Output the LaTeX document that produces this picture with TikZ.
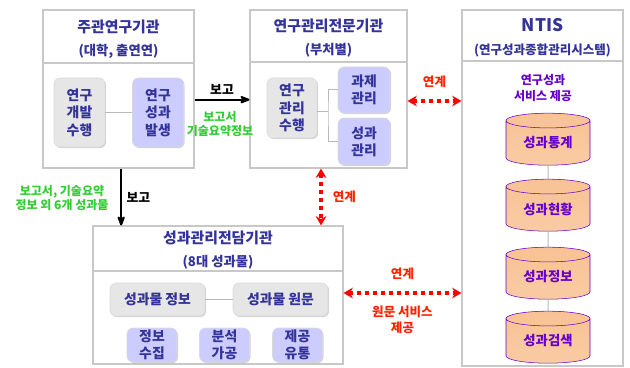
\documentclass[tikz,border=0pt]{standalone}
\usepackage{fontspec}
\setmainfont{Noto Sans CJK KR}
\usetikzlibrary{arrows.meta, shapes.geometric, shadows}

\definecolor{navy}{HTML}{333399}
\definecolor{framegray}{HTML}{C8C8C8}
\definecolor{boxgray}{HTML}{E6E6E6}
\definecolor{boxpurple}{HTML}{CCCCFF}
\definecolor{labelgreen}{HTML}{33CC33}
\definecolor{linkred}{HTML}{FF2200}
\definecolor{servpurple}{HTML}{6600CC}
\definecolor{cylorange}{HTML}{F8C294}

\begin{document}
\begin{tikzpicture}[x=0.75pt, y=-0.75pt, >={Stealth[round]},
    frame/.style={draw=framegray, line width=0.8pt, inner sep=0pt},
    title/.style={navy, align=center, font=\bfseries\fontsize{11.2}{17}\selectfont},
    inbox/.style={rounded corners=4.5pt, inner sep=0pt, align=center, navy,
        draw=gray!30, font=\bfseries\fontsize{10.4}{13}\selectfont,
        drop shadow={shadow xshift=0.8pt, shadow yshift=-0.8pt, opacity=0.35, fill=gray}},
    graybox/.style={inbox, fill=boxgray},
    purplebox/.style={inbox, fill=boxpurple},
    db/.style={cylinder, shape border rotate=90, aspect=0.3, draw=cylorange!90!orange,
        line width=0.4pt, top color=cylorange, middle color=cylorange!30, bottom color=cylorange!85,
        minimum width=63pt, minimum height=39pt, inner sep=0pt, servpurple,
        font=\bfseries\fontsize{10}{11}\selectfont},
    thin/.style={draw=gray!55, line width=0.75pt},
    report/.style={->, line width=1.5pt, black},
    link/.style={{Stealth[length=7pt, width=8pt]}-{Stealth[length=7pt, width=8pt]}, red,
        line width=3pt, dash pattern=on 3pt off 3pt},
    green/.style={labelgreen, align=center, font=\bfseries\fontsize{9}{10.5}\selectfont},
    redlab/.style={linkred, align=center, font=\bfseries\fontsize{9.4}{11.8}\selectfont}]
    \useasboundingbox (0,0) rectangle (630,367);

    % frames
    \node[frame, minimum width=113.25pt, minimum height=118.5pt] (b1) at (118.5,89) {};
    \node[frame, minimum width=117.75pt, minimum height=118.5pt] (b2) at (328.5,89) {};
    \node[frame, minimum width=120.75pt, minimum height=267pt] (b3) at (542.5,188) {};
    \node[frame, minimum width=187.5pt, minimum height=103.5pt] (b4) at (218,295) {};
    \draw[framegray, line width=0.8pt] (b1.west |- 0,63) -- (b1.east |- 0,63);
    \draw[framegray, line width=0.8pt] (b2.west |- 0,62) -- (b2.east |- 0,62);
    \draw[framegray, line width=0.8pt] (b3.west |- 0,61) -- (b3.east |- 0,61);
    \draw[framegray, line width=0.8pt] (b4.west |- 0,271) -- (b4.east |- 0,271);

    % titles
    \node[title] (t1) at (118.5,39) {주관연구기관\\{\fontsize{10}{12}\selectfont (대학, 출연연)}};
    \node[title] (t2) at (328.5,38) {연구관리전문기관\\{\fontsize{10}{12}\selectfont (부처별)}};
    \node[title] (t3) at (542.5,38) {{\fontsize{13}{15}\selectfont NTIS}\\{\fontsize{9.4}{12}\selectfont (연구성과종합관리시스템)}};
    \node[title] (t4) at (218,250) {성과관리전담기관\\{\fontsize{10}{12}\selectfont (8대 성과물)}};

    % inner boxes
    \node[graybox, minimum width=38.25pt, minimum height=51.75pt] (g1) at (79.5,112.5) {연구\\개발\\수행};
    \node[purplebox, minimum width=38.25pt, minimum height=51.75pt] (p1) at (158,112.5) {연구\\성과\\발생};
    \node[graybox, minimum width=37.5pt, minimum height=45pt] (g2) at (292,108) {연구\\관리\\수행};
    \node[purplebox, minimum width=39pt, minimum height=34.5pt] (p2a) at (364,90) {과제\\관리};
    \node[purplebox, minimum width=39pt, minimum height=35.25pt] (p2b) at (364,141.5) {성과\\관리};
    \node[graybox, minimum width=71.25pt, minimum height=24.75pt] (r1) at (157.5,299.5) {성과물 정보};
    \node[graybox, minimum width=71.25pt, minimum height=24.75pt] (r2) at (280.5,299.5) {성과물 원문};
    \node[purplebox, minimum width=37.5pt, minimum height=25.5pt] (s1) at (152,345) {정보\\수집};
    \node[purplebox, minimum width=37.5pt, minimum height=25.5pt] (s2) at (224.5,345) {분석\\가공};
    \node[purplebox, minimum width=37.5pt, minimum height=25.5pt] (s3) at (297.5,345) {제공\\유통};
    \coordinate (j2) at (328,112);

    \draw[thin] (g1) -- (p1);
    \draw[thin] (g2.east |- j2) -- (j2);
    \draw[thin] (p2a.west) -| (j2) |- (p2b.west);
    \draw[thin] (r1) -- (r2);

    % NTIS services
    \node[servpurple, align=center, font=\bfseries\fontsize{9}{12.5}\selectfont] (sv) at (543,88) {연구성과\\서비스 제공};
    \node[db] (c1) at (548,143) {성과통계};
    \node[db] (c2) at (548,209) {성과현황};
    \node[db] (c3) at (548,277) {성과정보};
    \node[db] (c4) at (548,341) {성과검색};
    \draw[thin] (c1.south) -- (c2.north);
    \draw[thin] (c2.south) -- (c3.north);
    \draw[thin] (c3.south) -- (c4.north);

    % reports
    \draw[report] ([yshift=-8pt]b1.east) -- ([yshift=-8pt]b2.west) node [midway,above,font=\bfseries\fontsize{9.6}{11}\selectfont] {보고};
    \node[green] (gl1) at (220,124) {보고서\\기술요약정보};
    \draw[report] ([xshift=2pt]b1.south) -- ([xshift=2pt]b1.south |- b4.north) node [midway,right,font=\bfseries\fontsize{9.6}{11}\selectfont] {보고};
    \node[green] (gl2) at (62,198) {보고서, 기술요약\\정보 외 6개 성과물};

    % links
    \draw[link] ([yshift=-9pt]b2.east) -- ([yshift=-9pt]b2.east -| b3.west) node [midway,above=5pt,redlab] {연계};
    \draw[link] ([xshift=-5.6pt]b2.south) -- ([xshift=-5.6pt]b2.south |- b4.north) node [midway,right=4pt,redlab] {연계};
    \draw[link] ([yshift=1.5pt]b4.east) -- ([yshift=1.5pt]b4.east -| b3.west) node [midway,above=5pt,redlab] {연계}
        node [midway,below=5pt,redlab] {원문 서비스\\제공};
\end{tikzpicture}
\end{document}
